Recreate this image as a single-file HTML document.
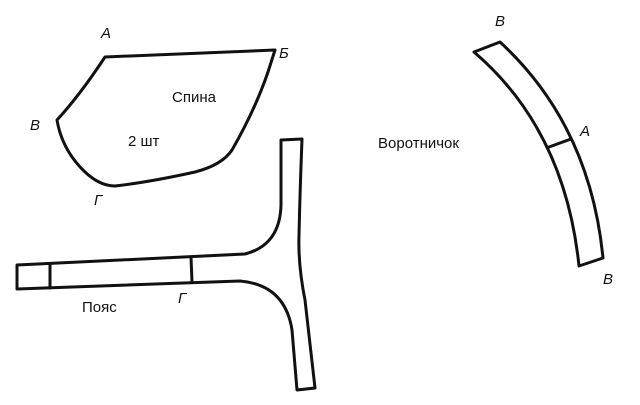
<!DOCTYPE html>
<html><head><meta charset="utf-8"><style>
html,body{margin:0;padding:0;background:#fff;}
svg{display:block}
text{font-family:"Liberation Sans",sans-serif;fill:#111}
</style></head><body>
<svg width="640" height="405" viewBox="0 0 640 405">
<g fill="none" stroke="#111" stroke-width="3" stroke-linejoin="round" stroke-linecap="round">
<!-- Spina -->
<path d="M105,57 L275,50 L268,72 Q255,110 232,150 Q222,165 195,172 Q150,182 115,186 Q100,186 85,172 Q62,150 57,120 Q80,95 105,57 Z"/>
<!-- Poyas -->
<path d="M17,265 L245,254 Q280,245 281,205 L281,140 L302,139 Q300,190 299,235 Q298,265 305,300 L315,388 L297,390 L292,330 Q285,285 240,281 L17,289 Z"/>
<line x1="50" y1="265" x2="50" y2="288"/>
<line x1="191" y1="257" x2="192" y2="282"/>
<!-- Collar -->
<path d="M474,52 L500,42 Q590,125 603,258 L579,266 Q565,130 474,52 Z"/>
<line x1="549" y1="147" x2="571" y2="139"/>
</g>
<g font-size="15" font-style="italic">
<text x="101" y="38">А</text>
<text x="279" y="58">Б</text>
<text x="30" y="130">В</text>
<text x="94" y="205">Г</text>
<text x="178" y="303">Г</text>
<text x="495" y="26">В</text>
<text x="580" y="136">А</text>
<text x="603" y="284">В</text>
</g>
<g font-size="15">
<text x="172" y="102">Спина</text>
<text x="128" y="146">2  шт</text>
<text x="82" y="312">Пояс</text>
<text x="378" y="148">Воротничок</text>
</g>
</svg>
</body></html>
